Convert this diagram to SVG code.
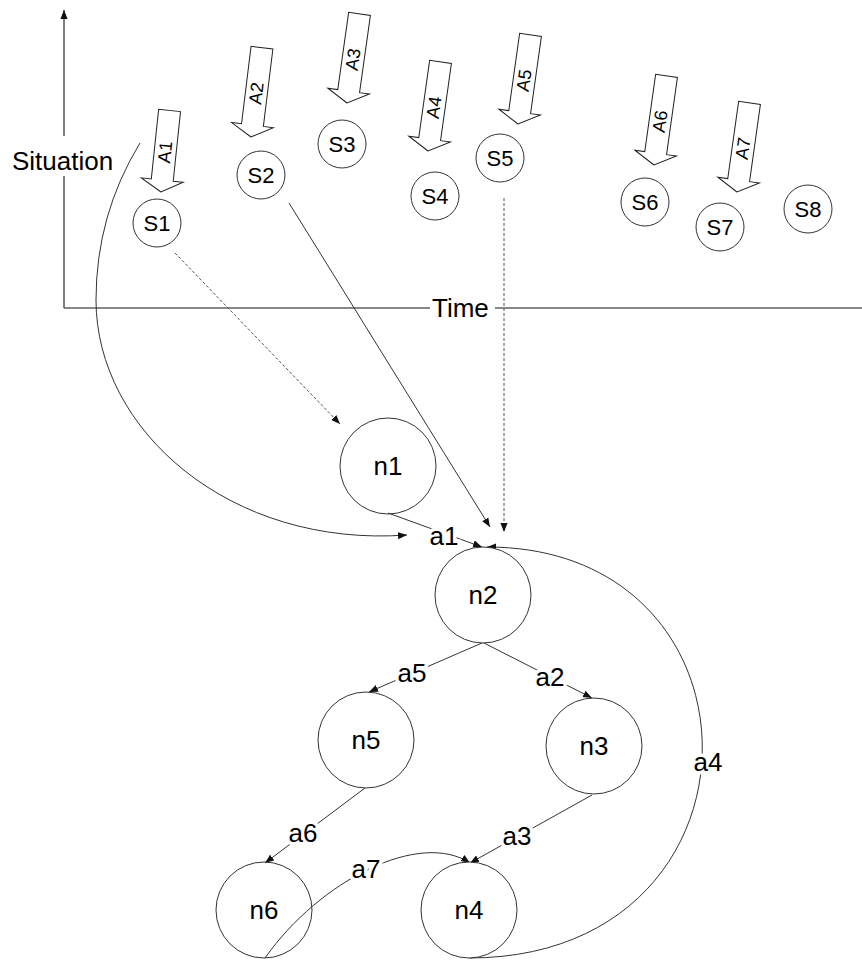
<svg xmlns="http://www.w3.org/2000/svg" width="862" height="960" viewBox="0 0 862 960">
  <style>
    text { font-family: "Liberation Sans", Arial, sans-serif; fill: #000; }
    .axis-label { font-size: 26px; }
    .node { fill: #fff; stroke: #333; stroke-width: 1; }
    .slab { font-size: 22px; text-anchor: middle; dominant-baseline: central; }
    .nlab { font-size: 26px; text-anchor: middle; dominant-baseline: central; }
    .elab { font-size: 26px; text-anchor: middle; dominant-baseline: central; stroke: #fff; stroke-width: 7; paint-order: stroke; }
    .block { fill: #fff; stroke: #222; stroke-width: 1; }
    .blab { font-size: 18px; text-anchor: middle; dominant-baseline: central; }
    .edge { fill: none; stroke: #333; stroke-width: 1; }
    .dash { fill: none; stroke: #555; stroke-width: 1; stroke-dasharray: 3 2; }
  </style>
  <defs>
    <marker id="arr" viewBox="0 0 10 10" refX="10" refY="5" markerWidth="9" markerHeight="9" markerUnits="userSpaceOnUse" orient="auto">
      <path d="M0,1 L10,5 L0,9 Z" fill="#111"/>
    </marker>
    <!-- block arrow pointing down, tip at origin -->
    <path id="blk" d="M0,0 L-21,-12 L-11,-12 L-11,-90 L11,-90 L11,-12 L21,-12 Z"/>
    <path id="blkShort" d="M0,0 L-21,-12 L-11,-12 L-11,-82 L11,-82 L11,-12 L21,-12 Z"/>
  </defs>

  <rect width="862" height="960" fill="#fff"/>

  <!-- axes -->
  <g id="axes">
    <line x1="64" y1="308" x2="862" y2="308" stroke="#888" stroke-width="2"/>
    <line x1="64" y1="308" x2="64" y2="10" stroke="#555" stroke-width="1.5" marker-end="url(#arr)"/>
    <rect x="8" y="136" width="112" height="40" fill="#fff"/>
    <text class="axis-label" x="12" y="170">Situation</text>
    <rect x="430" y="294" width="65" height="28" fill="#fff"/>
    <text class="axis-label" x="432" y="317">Time</text>
  </g>

  <!-- connectors -->
  <g id="connectors">
    <path class="edge" d="M140,143 Q96,215 96,300 C96,430 230,548 407,535" marker-end="url(#arr)"/>
    <line class="dash" x1="175" y1="253" x2="340" y2="424" marker-end="url(#arr)"/>
    <line class="edge" x1="289" y1="203" x2="490" y2="527" marker-end="url(#arr)"/>
    <line class="dash" x1="504" y1="198" x2="504" y2="532" marker-end="url(#arr)"/>
    <line class="edge" x1="388" y1="513" x2="482" y2="547" marker-end="url(#arr)"/>
    <path class="edge" d="M469,958 C777,958 777,547 487,547" marker-end="url(#arr)"/>
    <line class="edge" x1="482" y1="643" x2="369" y2="692" marker-end="url(#arr)"/>
    <line class="edge" x1="484" y1="643" x2="592" y2="698" marker-end="url(#arr)"/>
    <line class="edge" x1="365" y1="788" x2="265" y2="863" marker-end="url(#arr)"/>
    <line class="edge" x1="592" y1="795" x2="470" y2="863" marker-end="url(#arr)"/>
    <path class="edge" d="M265,958 C320,880 420,830 470,863" marker-end="url(#arr)"/>
    <text class="elab" x="444" y="536">a1</text>
    <text class="elab" x="550" y="677">a2</text>
    <text class="elab" x="517" y="836">a3</text>
    <text class="elab" x="708" y="762">a4</text>
    <text class="elab" x="412" y="673">a5</text>
    <text class="elab" x="303" y="833">a6</text>
    <text class="elab" x="366" y="869">a7</text>
  </g>

  <!-- actions -->
  <g id="A1" transform="translate(161,192) rotate(6)"><use href="#blkShort" class="block"/><text class="blab" transform="translate(0,-40) rotate(-90)">A1</text></g>
  <g id="A2" transform="translate(251,137) rotate(7)"><use href="#blk" class="block"/><text class="blab" transform="translate(0,-44) rotate(-90)">A2</text></g>
  <g id="A3" transform="translate(347,103) rotate(8)"><use href="#blk" class="block"/><text class="blab" transform="translate(0,-44) rotate(-90)">A3</text></g>
  <g id="A4" transform="translate(428,151) rotate(8)"><use href="#blk" class="block"/><text class="blab" transform="translate(0,-44) rotate(-90)">A4</text></g>
  <g id="A5" transform="translate(518,124) rotate(8)"><use href="#blk" class="block"/><text class="blab" transform="translate(0,-44) rotate(-90)">A5</text></g>
  <g id="A6" transform="translate(654,165) rotate(8)"><use href="#blk" class="block"/><text class="blab" transform="translate(0,-44) rotate(-90)">A6</text></g>
  <g id="A7" transform="translate(737,192) rotate(8)"><use href="#blk" class="block"/><text class="blab" transform="translate(0,-44) rotate(-90)">A7</text></g>

  <!-- situations -->
  <g id="S1"><circle class="node" cx="157" cy="223" r="24"/><text class="slab" x="157" y="223">S1</text></g>
  <g id="S2"><circle class="node" cx="261" cy="175" r="24"/><text class="slab" x="261" y="175">S2</text></g>
  <g id="S3"><circle class="node" cx="342" cy="144" r="24"/><text class="slab" x="342" y="144">S3</text></g>
  <g id="S4"><circle class="node" cx="435" cy="196" r="24"/><text class="slab" x="435" y="196">S4</text></g>
  <g id="S5"><circle class="node" cx="500" cy="158" r="24"/><text class="slab" x="500" y="158">S5</text></g>
  <g id="S6"><circle class="node" cx="645" cy="202" r="24"/><text class="slab" x="645" y="202">S6</text></g>
  <g id="S7"><circle class="node" cx="720" cy="227" r="24"/><text class="slab" x="720" y="227">S7</text></g>
  <g id="S8"><circle class="node" cx="808" cy="209" r="24"/><text class="slab" x="808" y="209">S8</text></g>

  <!-- graph nodes -->
  <g id="n1"><circle class="node" cx="388" cy="466" r="48" fill-opacity="0"/><text class="nlab" x="388" y="466">n1</text></g>
  <g id="n2"><circle class="node" cx="483" cy="595" r="48"/><text class="nlab" x="483" y="595">n2</text></g>
  <g id="n3"><circle class="node" cx="594" cy="746" r="48"/><text class="nlab" x="594" y="746">n3</text></g>
  <g id="n4"><circle class="node" cx="469" cy="910" r="48"/><text class="nlab" x="469" y="910">n4</text></g>
  <g id="n5"><circle class="node" cx="366" cy="740" r="48"/><text class="nlab" x="366" y="740">n5</text></g>
  <g id="n6"><circle class="node" cx="264" cy="910" r="48" style="fill:none"/><text class="nlab" x="264" y="910">n6</text></g>
</svg>
